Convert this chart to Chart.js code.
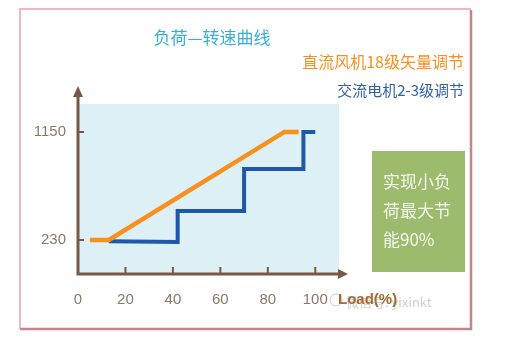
<!DOCTYPE html>
<html>
<head>
<meta charset="utf-8">
<script src="https://cdn.jsdelivr.net/npm/chart.js@4.4.1/dist/chart.umd.min.js"></script>
<style>
  body { margin: 0; background: #fff; }
</style>
</head>
<body>
<canvas id="myChart" width="510" height="363"></canvas>
<script>
// load (%) ticks and speed ticks
const loadTicks = [0, 20, 40, 60, 80, 100];
const speedTicks = [230, 1150];

// DC fan, 18-level vector control
const dcLoad = [5, 13, 87, 93];
const dcSpeed = [230, 230, 1150, 1150];

// AC motor, 2-3 level control
const acLoad = [13, 42, 42, 70, 70, 95, 95, 100];
const acSpeed = [220, 212, 477, 477, 835, 835, 1150, 1150];

const titleText = "负荷—转速曲线";
const dcLabel = "直流风机18级矢量调节";
const acLabel = "交流电机2-3级调节";
const noteLines = ["实现小负", "荷最大节", "能90%"];
const xTitle = "Load(%)";

const CJK = '"Noto Sans CJK SC", "Noto Sans", sans-serif';
const NARROW = '"Liberation Sans Narrow", "Liberation Sans", sans-serif';
const AXIS = '#7b5841';

function toPoints(xs, ys) {
  return xs.map((x, i) => ({ x: x, y: ys[i] }));
}

const decor = {
  id: 'decor',
  beforeDraw(chart) {
    const ctx = chart.ctx;
    const a = chart.chartArea;
    ctx.save();
    ctx.fillStyle = '#fff';
    ctx.fillRect(0, 0, chart.width, chart.height);
    // outer frame
    ctx.lineWidth = 2;
    ctx.strokeStyle = '#f2b7ba';
    ctx.beginPath();
    ctx.moveTo(20, 329); ctx.lineTo(20, 9); ctx.lineTo(471, 9);
    ctx.stroke();
    ctx.lineWidth = 2.5;
    ctx.strokeStyle = '#c4848b';
    ctx.beginPath();
    ctx.moveTo(471, 10); ctx.lineTo(471, 329); ctx.lineTo(20, 329);
    ctx.stroke();
    // plot background
    ctx.fillStyle = '#dcf0f5';
    ctx.fillRect(a.left, a.top, a.right - a.left, a.bottom - a.top);
    ctx.restore();
  },
  afterDraw(chart) {
    const ctx = chart.ctx;
    const a = chart.chartArea;
    const xs = chart.scales.x;
    const ys = chart.scales.y;
    ctx.save();

    // axes with arrows
    ctx.strokeStyle = AXIS;
    ctx.fillStyle = AXIS;
    ctx.lineWidth = 3;
    ctx.beginPath();
    ctx.moveTo(a.left, a.bottom);
    ctx.lineTo(a.left, a.top - 10);
    ctx.moveTo(a.left - 1.5, a.bottom);
    ctx.lineTo(a.right + 2, a.bottom);
    ctx.stroke();
    ctx.beginPath();
    ctx.moveTo(a.left, a.top - 18);
    ctx.lineTo(a.left - 5, a.top - 7);
    ctx.lineTo(a.left + 5, a.top - 7);
    ctx.closePath();
    ctx.fill();
    ctx.beginPath();
    ctx.moveTo(a.right + 9, a.bottom);
    ctx.lineTo(a.right - 1, a.bottom - 5);
    ctx.lineTo(a.right - 1, a.bottom + 5);
    ctx.closePath();
    ctx.fill();

    // inner tick marks
    ctx.lineWidth = 2;
    ctx.beginPath();
    loadTicks.forEach(v => {
      if (v === 0) return;
      const px = xs.getPixelForValue(v);
      ctx.moveTo(px, a.bottom);
      ctx.lineTo(px, a.bottom - 7);
    });
    speedTicks.forEach(v => {
      const py = ys.getPixelForValue(v);
      ctx.moveTo(a.left, py);
      ctx.lineTo(a.left + 6, py);
    });
    ctx.stroke();

    // title and legend texts
    ctx.textBaseline = 'middle';
    ctx.textAlign = 'center';
    ctx.font = '17px ' + CJK;
    ctx.fillStyle = '#36afd6';
    ctx.fillText(titleText, 212, 38);

    ctx.textAlign = 'right';
    ctx.font = '16px ' + CJK;
    ctx.fillStyle = '#f7901e';
    ctx.fillText(dcLabel, 464, 62);
    ctx.font = '15px ' + CJK;
    ctx.fillStyle = '#2f5fa6';
    ctx.fillText(acLabel, 464, 90);

    // green note box
    ctx.fillStyle = '#9cbb6c';
    ctx.fillRect(372, 151, 93, 121);
    ctx.fillStyle = '#f3f7ec';
    ctx.textAlign = 'left';
    ctx.font = '17px ' + CJK;
    noteLines.forEach((t, i) => ctx.fillText(t, 383, 182 + i * 29));

    // watermark + axis title
    ctx.font = '13px ' + CJK;
    ctx.fillStyle = '#cfcfcf';
    ctx.fillText('微信号: yixinkt', 346, 302);
    ctx.strokeStyle = '#d0d0d0';
    ctx.lineWidth = 1;
    ctx.beginPath();
    ctx.arc(336, 300, 6, 0, Math.PI * 2);
    ctx.stroke();
    ctx.font = 'bold 15px ' + NARROW;
    ctx.fillStyle = '#a8692f';
    ctx.fillText(xTitle, 338, 300);

    ctx.restore();
  }
};

new Chart("myChart", {
  type: 'line',
  data: {
    datasets: [{
      data: toPoints(dcLoad, dcSpeed),
      borderColor: '#f7901e',
      borderWidth: 4.5,
      pointRadius: 0,
      tension: 0,
      borderCapStyle: 'butt'
    }, {
      data: toPoints(acLoad, acSpeed),
      borderColor: '#1f58aa',
      borderWidth: 4,
      pointRadius: 0,
      tension: 0,
      borderCapStyle: 'butt',
      borderJoinStyle: 'miter'
    }]
  },
  options: {
    responsive: false,
    animation: false,
    layout: { padding: { top: 104, right: 171, bottom: 0, left: 0 } },
    plugins: {
      legend: { display: false },
      tooltip: { enabled: false }
    },
    scales: {
      x: {
        type: 'linear',
        min: 0,
        max: 110,
        afterBuildTicks: s => { s.ticks = loadTicks.map(v => ({ value: v })); },
        afterFit: s => { s.height = 89; },
        grid: { display: false, drawTicks: false },
        border: { display: false },
        ticks: {
          padding: 17,
          color: '#8b7866',
          font: { family: NARROW, size: 15 },
          maxRotation: 0,
          callback: v => String(v)
        }
      },
      y: {
        type: 'linear',
        min: -60,
        max: 1388,
        afterBuildTicks: s => { s.ticks = speedTicks.map(v => ({ value: v })); },
        afterFit: s => { s.width = 78; },
        grid: { display: false, drawTicks: false },
        border: { display: false },
        ticks: {
          padding: 12,
          color: '#8b7866',
          font: { family: NARROW, size: 15 },
          callback: v => String(v)
        }
      }
    }
  },
  plugins: [decor]
});
</script>
</body>
</html>
